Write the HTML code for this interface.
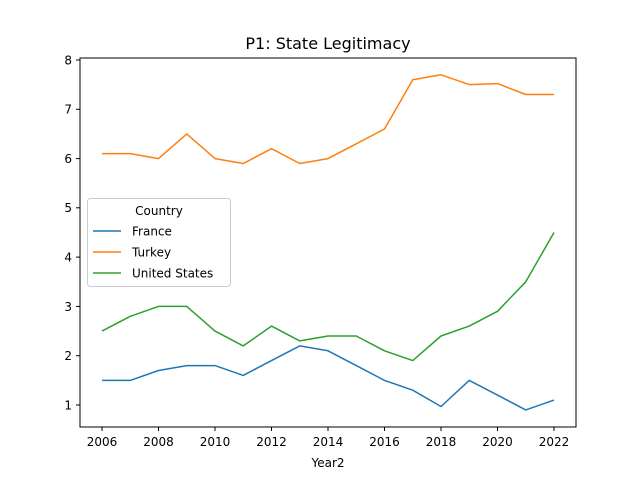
<!DOCTYPE html>
<html><head><meta charset="utf-8"><style>body{margin:0;background:#fff}svg{display:block}text{font-family:"DejaVu Sans","Liberation Sans",sans-serif;fill:#000}</style></head><body>
<svg width="640" height="480" xmlns="http://www.w3.org/2000/svg">
<rect width="640" height="480" fill="#fff"/>
<text x="328" y="49" font-size="16" text-anchor="middle">P1: State Legitimacy</text>
<g stroke="#000" stroke-width="1">
<line x1="102" y1="427" x2="102" y2="431"/><line x1="158.5" y1="427" x2="158.5" y2="431"/><line x1="215" y1="427" x2="215" y2="431"/><line x1="271.5" y1="427" x2="271.5" y2="431"/><line x1="328" y1="427" x2="328" y2="431"/><line x1="384.5" y1="427" x2="384.5" y2="431"/><line x1="441" y1="427" x2="441" y2="431"/><line x1="497.5" y1="427" x2="497.5" y2="431"/><line x1="554" y1="427" x2="554" y2="431"/>
<line x1="76" y1="405" x2="80" y2="405"/><line x1="76" y1="355.7" x2="80" y2="355.7"/><line x1="76" y1="306.4" x2="80" y2="306.4"/><line x1="76" y1="257.1" x2="80" y2="257.1"/><line x1="76" y1="207.8" x2="80" y2="207.8"/><line x1="76" y1="158.6" x2="80" y2="158.6"/><line x1="76" y1="109.3" x2="80" y2="109.3"/><line x1="76" y1="60" x2="80" y2="60"/>
</g>
<g font-size="12" text-anchor="middle">
<text x="102" y="446">2006</text><text x="158.5" y="446">2008</text><text x="215" y="446">2010</text><text x="271.5" y="446">2012</text><text x="328" y="446">2014</text><text x="384.5" y="446">2016</text><text x="441" y="446">2018</text><text x="497.5" y="446">2020</text><text x="554" y="446">2022</text>
<text x="328" y="467">Year2</text>
</g>
<g font-size="12" text-anchor="end">
<text x="72" y="409.5">1</text><text x="72" y="360">2</text><text x="72" y="311">3</text><text x="72" y="261.5">4</text><text x="72" y="212">5</text><text x="72" y="163">6</text><text x="72" y="113.5">7</text><text x="72" y="64.5">8</text>
</g>
<g fill="none" stroke-width="1.5" stroke-linejoin="round">
<polyline stroke="#1f77b4" points="102,380.4 130.25,380.4 158.5,370.5 186.75,365.6 215,365.6 243.25,375.4 271.5,360.6 299.75,345.9 328,350.8 356.25,365.6 384.5,380.4 412.75,390.2 441,406.5 469.25,380.4 497.5,395.1 525.75,409.9 554,400.1"/>
<polyline stroke="#ff7f0e" points="102,153.6 130.25,153.6 158.5,158.6 186.75,133.9 215,158.6 243.25,163.5 271.5,148.7 299.75,163.5 328,158.6 356.25,143.8 384.5,129 412.75,79.7 441,74.8 469.25,84.6 497.5,83.6 525.75,94.5 554,94.5"/>
<polyline stroke="#2ca02c" points="102,331.1 130.25,316.3 158.5,306.4 186.75,306.4 215,331.1 243.25,345.9 271.5,326.1 299.75,340.9 328,336 356.25,336 384.5,350.8 412.75,360.6 441,336 469.25,326.1 497.5,311.3 525.75,281.8 554,232.5"/>
</g>
<rect x="80" y="58" width="496" height="369" fill="none" stroke="#000" stroke-width="1"/>
<rect x="87.5" y="198.5" width="143" height="88" rx="3" fill="#fff" fill-opacity="0.8" stroke="#ccc"/>
<text x="159" y="215" font-size="12" text-anchor="middle">Country</text>
<g stroke-width="1.5"><line x1="93" y1="231" x2="121" y2="231" stroke="#1f77b4"/><line x1="93" y1="252" x2="121" y2="252" stroke="#ff7f0e"/><line x1="93" y1="273" x2="121" y2="273" stroke="#2ca02c"/></g>
<g font-size="12"><text x="132" y="235.5">France</text><text x="132" y="256.5">Turkey</text><text x="132" y="277.5">United States</text></g>
</svg>
</body></html>
